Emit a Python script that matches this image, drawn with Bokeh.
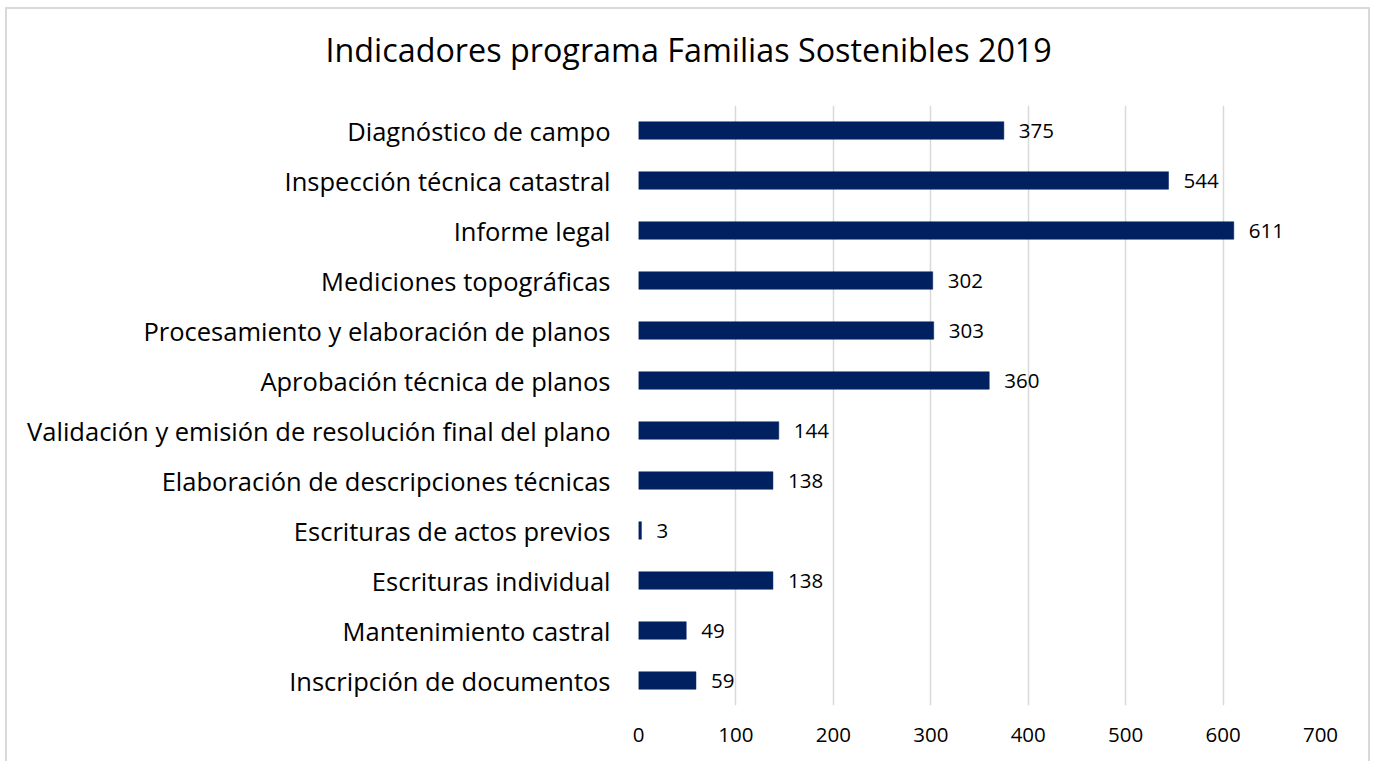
from bokeh.plotting import figure
from bokeh.models import Title, FixedTicker, Range1d, ColumnDataSource
from bokeh.core.properties import value
from bokeh.embed import file_html
from bokeh.resources import INLINE

categories = [
    "Diagnóstico de campo",
    "Inspección técnica catastral",
    "Informe legal",
    "Mediciones topográficas",
    "Procesamiento y elaboración de planos",
    "Aprobación técnica de planos",
    "Validación y emisión de resolución final del plano",
    "Elaboración de descripciones técnicas",
    "Escrituras de actos previos",
    "Escrituras individual",
    "Mantenimiento castral",
    "Inscripción de documentos",
]
values = [375, 544, 611, 302, 303, 360, 144, 138, 3, 138, 49, 59]
x_ticks = [0, 100, 200, 300, 400, 500, 600, 700]
title_text = "Indicadores programa Familias Sostenibles 2019"

FONT = "Open Sans"
n = len(categories)
ypos = [n - 1 - i for i in range(n)]

src = ColumnDataSource(dict(y=ypos, v=values, lab=[str(v) for v in values], cat=categories))

W, H = 1365, 754
p = figure(width=W, height=H, output_backend="svg", toolbar_location=None,
           x_range=Range1d(0, 700), y_range=Range1d(-0.5, n - 0.5),
           min_border_left=631, min_border_right=52, min_border_top=96, min_border_bottom=58)
p.outline_line_color = None
p.background_fill_color = "white"
p.border_fill_color = "white"
p.styles = {"margin-left": "5px", "margin-top": "7px",
            "border-top": "2px solid #d9d9d9", "border-left": "2px solid #d9d9d9",
            "border-right": "2px solid #d9d9d9"}

p.hbar(y="y", right="v", left=0, height=0.35, source=src, fill_color="#002060",
       line_color="#002060", line_width=0.5)
p.text(x="v", y="y", text="lab", source=src, x_offset=15, text_align="left",
       text_baseline="middle", text_font=value(FONT), text_font_size="20.5px", text_color="#000000")

p.xgrid.grid_line_color = "#d9d9d9"
p.xgrid.grid_line_width = 1.5
p.xgrid.ticker = FixedTicker(ticks=x_ticks)
p.ygrid.grid_line_color = None

p.xaxis.ticker = FixedTicker(ticks=x_ticks)
p.xaxis.axis_line_color = None
p.xaxis.major_tick_line_color = None
p.xaxis.minor_tick_line_color = None
p.xaxis.major_label_text_font = FONT
p.xaxis.major_label_text_font_size = "20.5px"
p.xaxis.major_label_text_color = "#000000"
p.xaxis.major_label_standoff = 16

p.yaxis.ticker = FixedTicker(ticks=ypos)
p.yaxis.major_label_overrides = {y: c for y, c in zip(ypos, categories)}
p.yaxis.axis_line_color = None
p.yaxis.major_tick_line_color = None
p.yaxis.minor_tick_line_color = None
p.yaxis.major_label_text_font = FONT
p.yaxis.major_label_text_font_size = "25.5px"
p.yaxis.major_label_text_color = "#000000"
p.yaxis.major_label_standoff = 22

# main title (outermost) plus an empty spacer title next to the frame
p.title.text = title_text
p.title.align = "left"
p.title.offset = -313
p.title.text_font = FONT
p.title.text_font_size = "32.3px"
p.title.text_font_style = "normal"
p.title.text_color = "#000000"
p.title.vertical_align = "bottom"
p.title.standoff = 0

spacer = Title(text=" ", text_font_size="1px", standoff=32)
p.add_layout(spacer, "above")

open("out.html", "w").write(file_html(p, INLINE))
